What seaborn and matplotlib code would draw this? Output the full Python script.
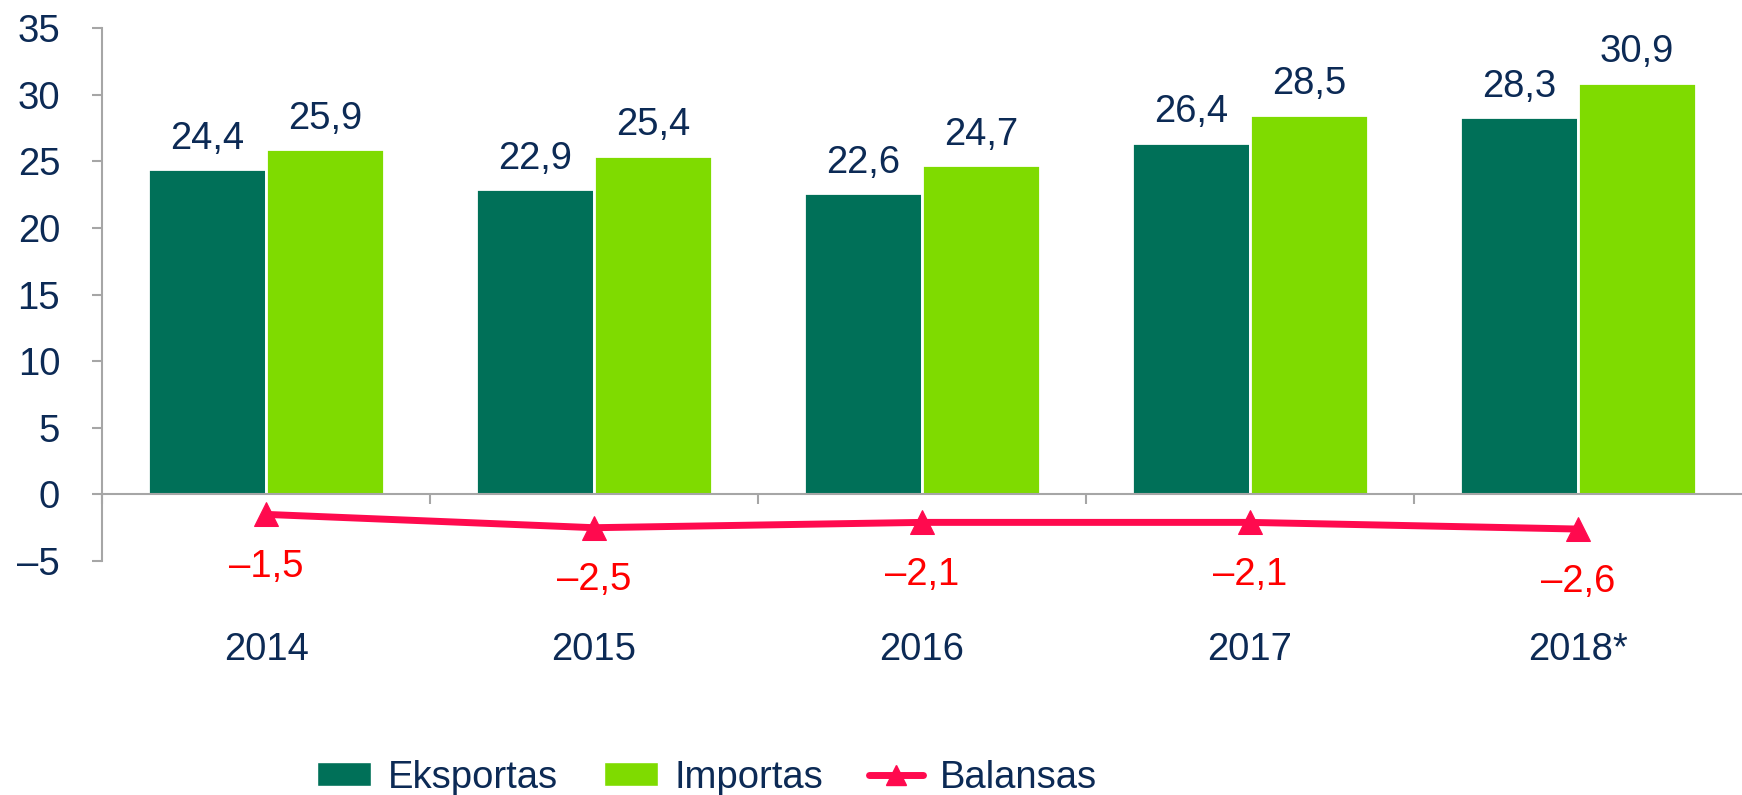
import pandas as pd
import matplotlib.pyplot as plt
import matplotlib.ticker as mticker
from matplotlib.patches import Patch
from matplotlib.lines import Line2D
import seaborn as sns

YEARS = ["2014", "2015", "2016", "2017", "2018*"]
EXPORTS = [24.4, 22.9, 22.6, 26.4, 28.3]
IMPORTS = [25.9, 25.4, 24.7, 28.5, 30.9]
BALANCE = [-1.5, -2.5, -2.1, -2.1, -2.6]

C_EXP = "#007058"
C_IMP = "#7FDB00"
C_BAL = "#FF0A4E"
C_TXT = "#0C2A55"
C_NEG = "#FF0000"
C_AX = "#A6A6A6"
FS = 27.5

sns.set_theme(style="white")
plt.rcParams["font.family"] = ["Liberation Sans", "DejaVu Sans"]


def num(v):
    s = f"{abs(v):.1f}".replace(".", ",")
    return ("\u2013" + s) if v < 0 else s


bars = pd.DataFrame({
    "year": YEARS * 2,
    "value": EXPORTS + IMPORTS,
    "series": ["Eksportas"] * len(YEARS) + ["Importas"] * len(YEARS),
})

fig = plt.figure(figsize=(17.42, 7.95), dpi=100)
ax = fig.add_axes([0.0586, 0.2943, 0.9414, 0.6705])

sns.barplot(data=bars, x="year", y="value", hue="series",
            palette=[C_EXP, C_IMP], saturation=1, width=0.72,
            edgecolor="white", linewidth=2, ax=ax, legend=False)

for cont, vals in zip(ax.containers, [EXPORTS, IMPORTS]):
    ax.bar_label(cont, labels=[num(v) for v in vals], padding=9,
                 fontsize=FS, color=C_TXT)

sns.lineplot(x=YEARS, y=BALANCE, sort=False, color=C_BAL, linewidth=5,
             marker="^", markersize=17, markeredgecolor=C_BAL, ax=ax)

# balance labels sit under the markers
for i, v in enumerate(BALANCE):
    ax.annotate(num(v), (i, v), xytext=(0, -25), textcoords="offset points",
                ha="center", va="top", fontsize=FS, color=C_NEG)

ax.set_ylim(-5, 35)
ax.set_xlim(-0.5, len(YEARS) - 0.5)
ax.set_yticks(range(-5, 36, 5))
ax.yaxis.set_major_formatter(mticker.FuncFormatter(
    lambda v, p: ("\u2013" + str(int(abs(v)))) if v < 0 else str(int(v))))
ax.set_xlabel("")
ax.set_ylabel("")

for side in ["top", "right"]:
    ax.spines[side].set_visible(False)
ax.spines["left"].set_color(C_AX)
ax.spines["left"].set_linewidth(1.5)
ax.spines["bottom"].set_position(("data", 0))
ax.spines["bottom"].set_color(C_AX)
ax.spines["bottom"].set_linewidth(1.5)

ax.tick_params(axis="y", direction="out", length=7.2, width=1.5, color=C_AX,
               labelsize=FS, labelcolor=C_TXT, pad=23, left=True)
ax.set_xticks(range(len(YEARS)))
ax.set_xticklabels(YEARS)
ax.tick_params(axis="x", which="major", length=0, pad=99,
               labelsize=FS, labelcolor=C_TXT)
ax.set_xticks([i - 0.5 for i in range(len(YEARS))], minor=True)
ax.tick_params(axis="x", which="minor", direction="out", length=7.2,
               width=1.5, color=C_AX, bottom=True)

handles = [
    Patch(facecolor=C_EXP, label="Eksportas"),
    Patch(facecolor=C_IMP, label="Importas"),
    Line2D([], [], color=C_BAL, linewidth=5, marker="^", markersize=14,
           label="Balansas"),
]
leg = fig.legend(handles=handles, loc="center", bbox_to_anchor=(0.406, 0.022),
                 ncol=3, frameon=False, fontsize=FS, handlelength=1.4,
                 handleheight=0.6, columnspacing=1.2, handletextpad=0.45)
for t in leg.get_texts():
    t.set_color(C_TXT)

fig.savefig("out.png", dpi=100)
